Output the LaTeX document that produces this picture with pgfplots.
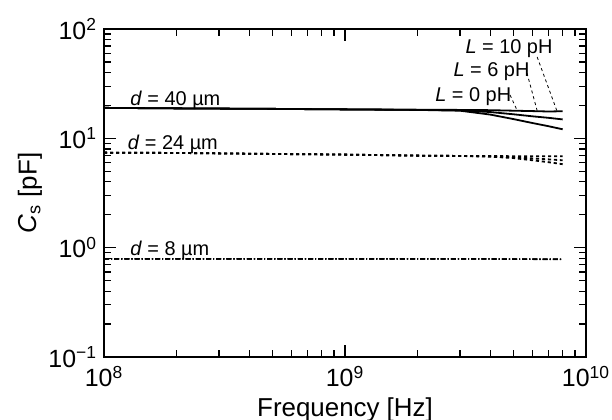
\documentclass[border=0pt]{standalone}
\usepackage{pgfplots}
\usepackage{pgfplotstable}
\pgfplotsset{compat=1.18}
\usepackage{fontspec}
\setmainfont{Liberation Sans}

% Series capacitance C_s versus frequency for three widths d and three inductances L
\pgfplotstableread{
f      L0     L6     L10
1e8    19.0   19.0   19.0
2e8    18.8   18.8   18.8
5e8    18.6   18.6   18.6
1e9    18.4   18.4   18.4
2e9    18.2   18.2   18.25
3e9    17.9   18.05  18.2
4e9    16.5   17.4   18.1
5e9    15.0   16.6   17.9
6e9    13.8   15.9   17.75
7e9    12.9   15.4   17.6
8e9    12.1   14.9   17.7
}\dforty

\pgfplotstableread{
f      L0     L6     L10
1e8    7.40   7.40   7.40
2e8    7.35   7.35   7.35
5e8    7.20   7.20   7.20
1e9    7.10   7.10   7.10
2e9    6.95   6.95   6.95
3e9    6.90   6.90   6.90
4e9    6.80   6.85   6.88
5e9    6.60   6.72   6.87
6e9    6.30   6.55   6.86
7e9    6.05   6.42   6.85
8e9    5.80   6.30   6.85
}\dtwentyfour

\pgfplotstableread{
f      L0     L6     L10
1e8    0.790  0.790  0.790
1e9    0.790  0.790  0.790
4e9    0.787  0.788  0.789
8e9    0.780  0.783  0.786
}\deight

\begin{document}
\begin{tikzpicture}[x=1bp,y=1bp]
\begin{axis}[
  at={(52bp,31.5bp)}, anchor=south west,
  scale only axis, width=241bp, height=164bp,
  xmode=log, ymode=log,
  xmin=1e8, xmax=1e10, ymin=0.1, ymax=100,
  xtick={1e8,1e9,1e10},
  xticklabels={10\textsuperscript{8},10\textsuperscript{9},10\textsuperscript{10}},
  minor xtick={2e8,3e8,4e8,5e8,6e8,7e8,8e8,9e8,2e9,3e9,4e9,5e9,6e9,7e9,8e9,9e9},
  ytick={0.1,1,10,100},
  yticklabels={10\textsuperscript{−1},10\textsuperscript{0},10\textsuperscript{1},10\textsuperscript{2}},
  minor ytick={0.2,0.3,0.4,0.5,0.6,0.7,0.8,0.9,2,3,4,5,6,7,8,9,20,30,40,50,60,70,80,90},
  tick align=inside,
  major tick length=6bp, minor tick length=3.5bp,
  every tick/.style={black, line width=0.6bp},
  axis line style={line width=1bp},
  ticklabel style={font=\fontsize{12.5}{14}\selectfont},
  xticklabel style={yshift=-1bp},
  xlabel={Frequency [Hz]},
  ylabel={\textit{C}\textsubscript{s} [pF]},
  label style={font=\fontsize{13}{15}\selectfont},
  xlabel style={at={(axis description cs:0.5,0)}, anchor=center, yshift=-26.5bp},
  ylabel style={at={(axis description cs:0,0.5)}, anchor=center, rotate=0, yshift=37bp},
  clip=false,
]
% d = 40 um (solid)
\addplot[black, line width=0.9bp] table[x=f, y=L0] {\dforty};
\addplot[black, line width=0.9bp] table[x=f, y=L6] {\dforty};
\addplot[black, line width=0.9bp] table[x=f, y=L10] {\dforty};
% d = 24 um (dotted)
\addplot[black, line width=0.9bp, dash pattern=on 1.6bp off 1.4bp] table[x=f, y=L0] {\dtwentyfour};
\addplot[black, line width=0.9bp, dash pattern=on 1.6bp off 1.4bp] table[x=f, y=L6] {\dtwentyfour};
\addplot[black, line width=0.9bp, dash pattern=on 1.6bp off 1.4bp] table[x=f, y=L10] {\dtwentyfour};
% d = 8 um (dash-dot)
\addplot[black, line width=0.7bp, dash pattern=on 2.5bp off 1bp on 0.6bp off 1bp] table[x=f, y=L0] {\deight};
\addplot[black, line width=0.7bp, dash pattern=on 2.5bp off 1bp on 0.6bp off 1bp] table[x=f, y=L6] {\deight};
\addplot[black, line width=0.7bp, dash pattern=on 2.5bp off 1bp on 0.6bp off 1bp] table[x=f, y=L10] {\deight};

% annotations
\node[anchor=west, inner sep=0pt, font=\fontsize{10}{12}\selectfont] at (axis cs:1.28e8,22.4) {\textit{d} = 40 µm};
\node[anchor=west, inner sep=0pt, font=\fontsize{10}{12}\selectfont] at (axis cs:1.25e8,8.87) {\textit{d} = 24 µm};
\node[anchor=west, inner sep=0pt, font=\fontsize{10}{12}\selectfont] at (axis cs:1.28e8,0.95) {\textit{d} = 8 µm};

\node[anchor=west, inner sep=0pt, font=\fontsize{10}{12}\selectfont] at (axis cs:3.15e9,65.6) {\textit{L} = 10 pH};
\node[anchor=west, inner sep=0pt, font=\fontsize{10}{12}\selectfont] at (axis cs:2.81e9,40.5) {\textit{L} = 6 pH};
\node[anchor=west, inner sep=0pt, font=\fontsize{10}{12}\selectfont] at (axis cs:2.36e9,23.9) {\textit{L} = 0 pH};

\draw[black, line width=0.4bp, dash pattern=on 1.5bp off 1.5bp] (axis cs:6.27e9,55.5) -- (axis cs:7.59e9,17.6);
\draw[black, line width=0.4bp, dash pattern=on 1.5bp off 1.5bp] (axis cs:5.69e9,39.5) -- (axis cs:6.27e9,17.9);
\draw[black, line width=0.4bp, dash pattern=on 1.5bp off 1.5bp] (axis cs:4.84e9,24.9) -- (axis cs:5.18e9,18.0);
\end{axis}
\pgfresetboundingbox
\path (0,0) rectangle (306bp,210bp);
\end{tikzpicture}
\end{document}
